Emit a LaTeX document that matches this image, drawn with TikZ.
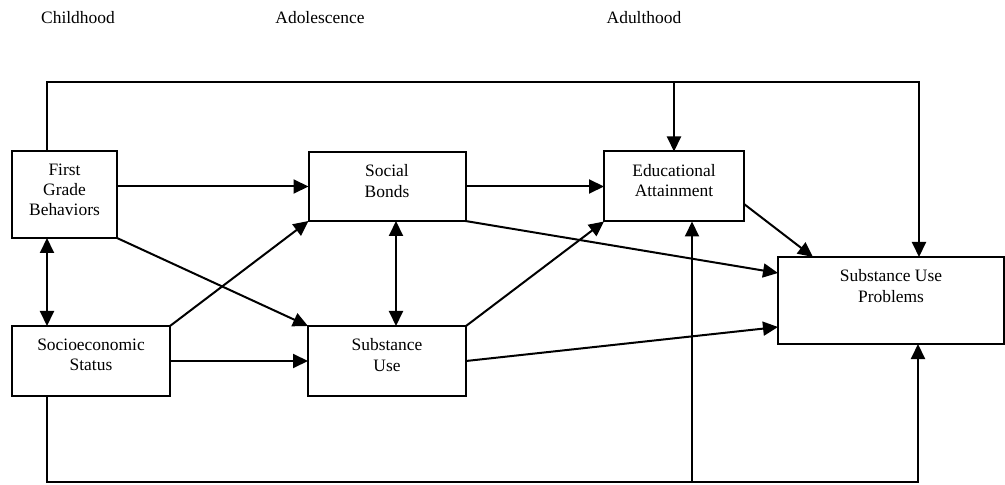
\documentclass[tikz,border=0pt]{standalone}
\usepackage{fontspec}
\setmainfont{Liberation Serif}
\usetikzlibrary{arrows.meta}

\begin{document}
\begin{tikzpicture}[x=1bp,y=-1bp,
	box/.style={draw,rectangle,inner sep=0pt,outer sep=0pt},
	boxtext/.style={anchor=north,align=center,inner sep=11.5bp,font=\fontsize{17.5}{20.5}\selectfont},
	stage/.style={font=\fontsize{17.5}{20.5}\selectfont},
	link/.style={-{Triangle[length=15bp,width=14bp]}},
	twoway/.style={{Triangle[length=15bp,width=14bp]}-{Triangle[length=15bp,width=14bp]}},
	line width=2bp]
\useasboundingbox (0,0) rectangle (1005,485);

\node[stage](childhood) at (78,18){Childhood};
\node[stage](adolescence) at (320,18){Adolescence};
\node[stage](adulthood) at (644,18){Adulthood};

\node[box,minimum width=105bp,minimum height=87bp](fgb) at (64.5,194.5){};
\node[boxtext](fgbtext) at (fgb.north){First\\Grade\\Behaviors};
\node[box,minimum width=158bp,minimum height=70bp](ses) at (91,361){};
\node[boxtext](sestext) at (ses.north){Socioeconomic\\Status};
\node[box,minimum width=157bp,minimum height=69bp](sb) at (387,186.5){};
\node[boxtext](sbtext) at (sb.north){Social\\Bonds};
\node[box,minimum width=158bp,minimum height=70bp](su) at (387,361){};
\node[boxtext](sutext) at (su.north){Substance\\Use};
\node[box,minimum width=140bp,minimum height=70bp](ea) at (674,186.5){};
\node[boxtext](eatext) at (ea.north){Educational\\Attainment};
\node[box,minimum width=226bp,minimum height=87bp](sup) at (891,300.5){};
\node[boxtext](suptext) at (sup.north){Substance Use\\Problems};

\coordinate (tl) at (47,82);
\coordinate (tr) at (919,82);
\coordinate (bl) at (47,482);
\coordinate (br) at (918,482);
\coordinate (bm) at (692,482);

\draw[link] (fgb.east |- sb.west) -- (sb.west);
\draw[link] (sb.east) -- (ea.west);
\draw[link] (fgb.south east) -- (su.north west);
\draw[link] (ses.north east) -- (sb.south west);
\draw[link] (ses.east) -- (su.west);
\draw[twoway] (fgb.south -| tl) -- (ses.north -| tl);
\draw[twoway] ([xshift=9bp]sb.south) -- ([xshift=9bp]su.north);
\draw[link] (su.north east) -- (ea.south west);
\draw[link] (sb.south east) -- ([yshift=27.5bp]sup.west);
\draw[link] (su.east) -- ([yshift=-26.5bp]sup.west);
\draw[link] ([yshift=-17.5bp]ea.east) -- ([xshift=-78bp]sup.north);

\draw[link] (fgb.north -| tl) -- (tl) -- (tr) -- (sup.north -| tr);
\draw[link] (tl -| ea.north) -- (ea.north);
\draw[link] (ses.south -| bl) -- (bl) -- (br) -- (sup.south -| br);
\draw[link] (bm) -- (ea.south -| bm);
\end{tikzpicture}
\end{document}
